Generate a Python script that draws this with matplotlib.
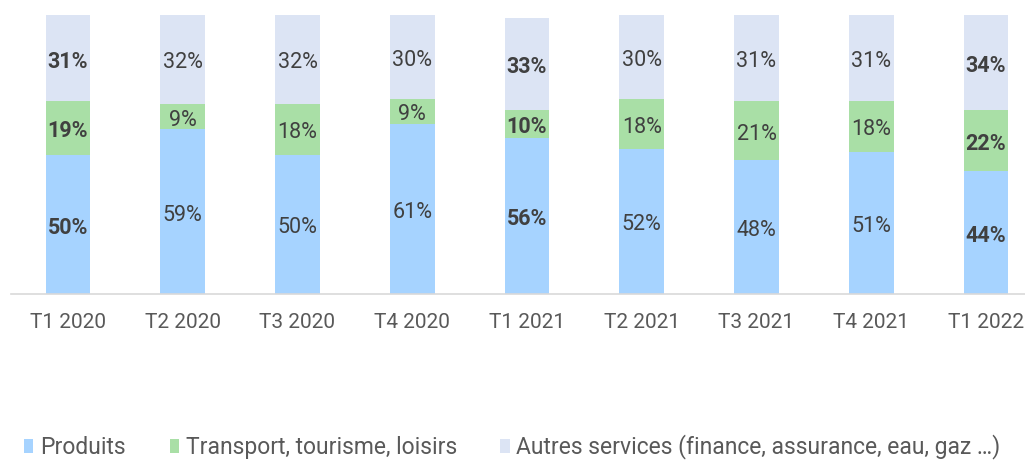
import matplotlib
matplotlib.use("Agg")
import matplotlib.pyplot as plt
from matplotlib.patches import Patch

categories = ["T1 2020", "T2 2020", "T3 2020", "T4 2020", "T1 2021",
              "T2 2021", "T3 2021", "T4 2021", "T1 2022"]
produits = [50, 59, 50, 61, 56, 52, 48, 51, 44]
transport = [19, 9, 18, 9, 10, 18, 21, 18, 22]
autres = [31, 32, 32, 30, 33, 30, 31, 31, 34]
bold_cats = ["T1 2020", "T1 2021", "T1 2022"]
series_names = ["Produits", "Transport, tourisme, loisirs",
                "Autres services (finance, assurance, eau, gaz …)"]

plt.rcParams['font.family'] = ["Roboto", "DejaVu Sans"]

colors = ["#A6D3FF", "#A9DFA6", "#DCE4F4"]
W, H = 1025, 466
fig = plt.figure(figsize=(W / 100, H / 100), dpi=100)
left_px, right_px, bottom_px, top_px = 10.6, 1025, 172, 451
ax = fig.add_axes([left_px / W, bottom_px / H, (right_px - left_px) / W, (top_px - bottom_px) / H])
spacing = 114.75
ax.set_xlim(-0.5, -0.5 + (right_px - left_px) / spacing)
ax.set_ylim(0, 100)

x = list(range(len(categories)))
bw = 0.39
bottoms = [0] * len(categories)
for vals, col in zip([produits, transport, autres], colors):
    ax.bar(x, vals, bw, bottom=bottoms, color=col, edgecolor="none")
    for i, v in enumerate(vals):
        weight = "bold" if categories[i] in bold_cats else "normal"
        ax.text(x[i], bottoms[i] + v / 2 - 1.2, f"{v}%", ha="center", va="center",
                fontsize=15.5, color="#404040", fontweight=weight)
    bottoms = [b + v for b, v in zip(bottoms, vals)]

for s in ["top", "right", "left"]:
    ax.spines[s].set_visible(False)
ax.spines["bottom"].set_color("#D9D9D9")
ax.spines["bottom"].set_linewidth(1.2)
ax.set_yticks([])
ax.set_xticks(x)
ax.set_xticklabels(categories, fontsize=15, color="#595959")
ax.tick_params(axis="x", length=0, pad=14)

handles = [Patch(facecolor=c, edgecolor="none") for c in colors]
fig.legend(handles, series_names, loc="center", bbox_to_anchor=(0.5, 1 - 447 / H),
           ncol=3, frameon=False, fontsize=16.5, handlelength=0.4, handleheight=0.6,
           handletextpad=0.3, columnspacing=1.9, labelcolor="#595959")

fig.savefig("out.png", dpi=100)
